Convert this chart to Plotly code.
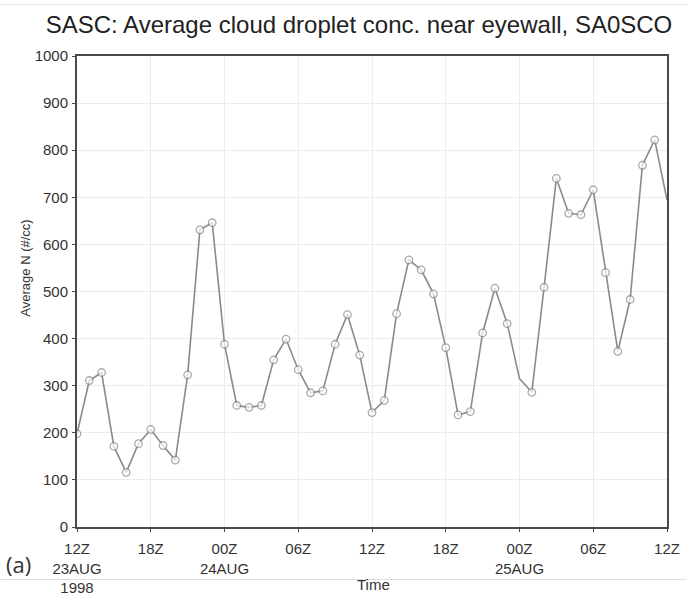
import plotly.graph_objects as go

# Hours after 12Z 23 Aug 1998 and the hourly average cloud droplet concentration
hours = list(range(49))
avg_n = [198, 311, 328, 171, 116, 177, 207, 173, 142, 323,
         631, 646, 388, 258, 254, 258, 355, 399, 334, 285,
         289, 388, 451, 365, 243, 269, 453, 567, 546, 495,
         381, 238, 245, 412, 507, 432, 315, 286, 509, 740,
         666, 663, 716, 540, 373, 483, 768, 822, 694]
# samples drawn without a circle marker
no_marker = {36, 48}

tick_hours = [0, 6, 12, 18, 24, 30, 36, 42, 48]
tick_text = ["12Z<br>23AUG<br>1998", "18Z", "00Z<br>24AUG", "06Z", "12Z",
             "18Z", "00Z<br>25AUG", "06Z", "12Z"]
y_ticks = list(range(0, 1001, 100))

FONT = "Liberation Sans, Arial, sans-serif"
W, H = 692, 608
L, R, T, B = 77, 20, 56, 77
PW, PH = W - L - R, H - T - B


def px_x(x):
    """Pixel column -> paper x."""
    return (x - L) / PW


def px_y(y):
    """Pixel row -> paper y."""
    return (H - B - y) / PH


marker_sizes = [0 if h in no_marker else 7.5 for h in hours]

fig = go.Figure()
fig.add_trace(go.Scatter(
    x=hours, y=avg_n, mode="lines+markers",
    line=dict(color="#8a8a8a", width=1.6),
    marker=dict(symbol="circle", size=marker_sizes, color="white",
                line=dict(color="#878787", width=1.3)),
    cliponaxis=True, showlegend=False,
))

axis_common = dict(
    showline=True, mirror=True, linecolor="#4a4a4a", linewidth=2,
    showgrid=True, gridcolor="#ececec", gridwidth=1, zeroline=False,
    ticks="outside", ticklen=3, tickcolor="#4a4a4a",
    tickfont=dict(family=FONT, size=15, color="#333333"),
)

fig.update_layout(
    width=W, height=H,
    margin=dict(l=L, r=R, t=T, b=B, pad=0),
    paper_bgcolor="white", plot_bgcolor="white",
    xaxis=dict(range=[0, 48], tickmode="array", tickvals=tick_hours,
               ticktext=tick_text, ticklabelstandoff=4, **axis_common),
    yaxis=dict(range=[0, 1000], tickmode="array", tickvals=y_ticks,
               ticklabelstandoff=1, **axis_common),
    title=dict(text="SASC: Average cloud droplet conc. near eyewall, SA0SCO",
               font=dict(family=FONT, size=24, color="#222222"),
               x=359 / W, xanchor="center", xref="container",
               y=1 - 25 / H, yanchor="middle", yref="container"),
    annotations=[
        dict(text="Average N (#/cc)", textangle=-90, showarrow=False,
             xref="paper", yref="paper", x=px_x(25), y=px_y(270),
             xanchor="center", yanchor="middle",
             font=dict(family=FONT, size=13, color="#333333")),
        dict(text="Time", showarrow=False,
             xref="paper", yref="paper", x=px_x(376), y=px_y(589),
             xanchor="center", yanchor="middle",
             font=dict(family=FONT, size=15, color="#333333")),
        dict(text="(a)", showarrow=False,
             xref="paper", yref="paper", x=px_x(18), y=px_y(568),
             xanchor="center", yanchor="middle",
             font=dict(family="Open Sans, sans-serif", size=22, color="#333333")),
    ],
    shapes=[
        # faint page rules above the title and under the axis labels
        dict(type="line", xref="paper", yref="paper",
             x0=px_x(0), x1=px_x(W), y0=px_y(584), y1=px_y(584),
             line=dict(color="#dddddd", width=1), layer="below"),
        dict(type="line", xref="paper", yref="paper",
             x0=px_x(0), x1=px_x(W), y0=px_y(4), y1=px_y(4),
             line=dict(color="#e4e4e4", width=1), layer="below"),
    ],
)

fig.write_html("out.html")
